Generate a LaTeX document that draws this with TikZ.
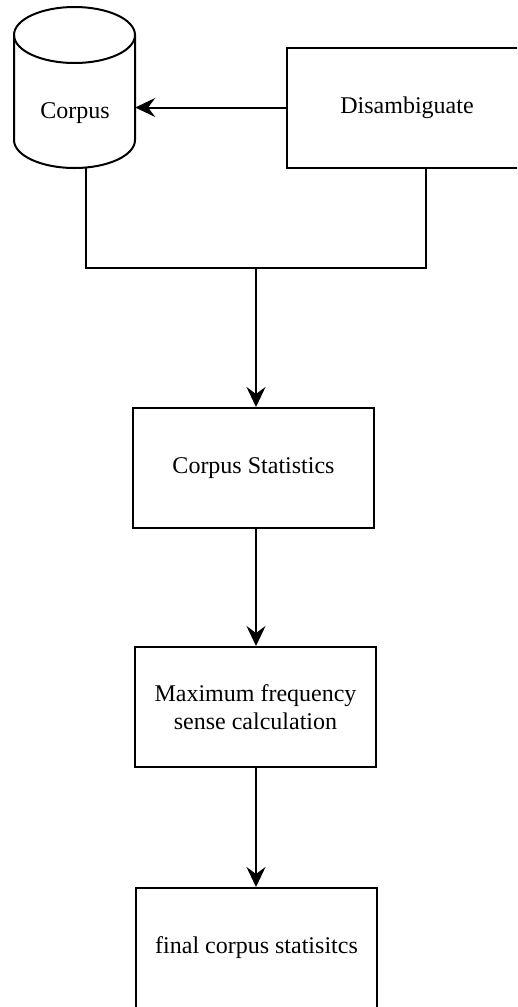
\documentclass[tikz,border=0pt]{standalone}
\usepackage{fontspec}
\setmainfont{Liberation Serif}
\usetikzlibrary{arrows.meta}
\begin{document}
\begin{tikzpicture}[x=1pt,y=-1pt,
  lbl/.style={font=\fontsize{24}{28}\selectfont},
  box/.style={draw,line width=2pt,minimum width=241pt,minimum height=120pt,align=center,lbl,inner sep=0pt},
  conn/.style={line width=2pt},
  arr/.style={conn,-{Stealth[length=20pt,width=19pt,inset=7pt]}}]
\useasboundingbox (0,0) rectangle (517,1007);
\clip (0,0) rectangle (517,1007);
% cylinder
\draw[line width=2pt,fill=white] (14,35) -- (14,140) arc[start angle=180,end angle=360,x radius=60.5pt,y radius=28pt] -- (135,35) arc[start angle=0,end angle=180,x radius=60.5pt,y radius=28pt] -- cycle;
\draw[line width=2pt] (14,35) arc[start angle=180,end angle=360,x radius=60.5pt,y radius=28pt];
\node[minimum width=121pt,minimum height=161pt,inner sep=0pt] (corpus) at (74.5,87.5) {};
\node[lbl] (corpuslabel) at (75,113) {Corpus};
\node[box] (dis) at (407,107.5) {Disambiguate};
\node[box] (stats) at (253.5,468) {Corpus Statistics};
\node[box] (maxf) at (255.5,707) {Maximum frequency\\sense calculation};
\node[box] (final) at (256.5,948) {final corpus statisitcs};
\coordinate (cb) at (86,167.5);
\coordinate (j1) at (86,268);
\coordinate (j2) at (426,268);
\coordinate (jm) at (256,268);
\draw[arr] (dis.west) -- (dis.west -| corpus.east);
\draw[conn] (cb) -- (j1) -- (j2) -- (j2 |- dis.south);
\draw[arr] (jm) -- (jm |- stats.north);
\draw[arr] (stats.south -| jm) -- (maxf.north -| jm);
\draw[arr] (maxf.south -| jm) -- (final.north -| jm);
\end{tikzpicture}
\end{document}
